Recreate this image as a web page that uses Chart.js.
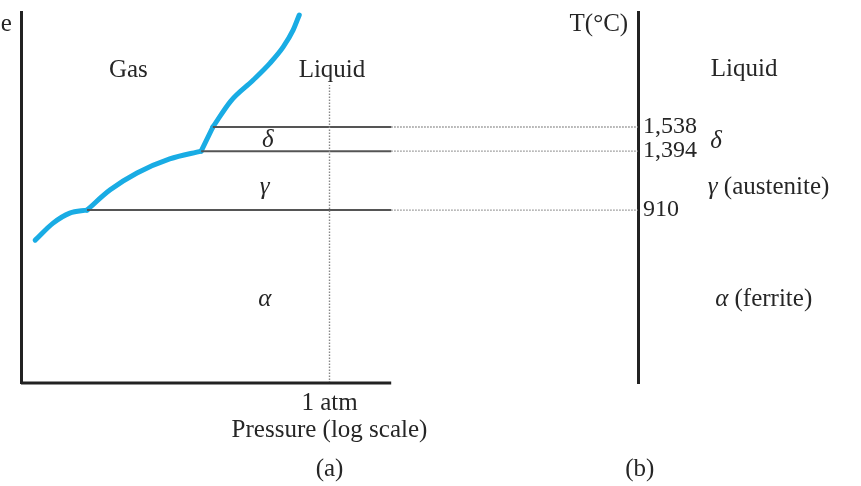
<!DOCTYPE html>
<html><head><meta charset="utf-8">
<script src="https://cdn.jsdelivr.net/npm/chart.js@4/dist/chart.umd.min.js"></script>
<style>html,body{margin:0;padding:0;background:#fff}</style>
</head><body>
<canvas id="c" width="861" height="486" style="display:block;width:861px;height:486px"></canvas>
<script>
// Schematic coordinates: x = log pressure (arbitrary units, 1 atm = 5), y = schematic temperature level (0..100)
const xAxisEnd = 6;          // end of the pressure axis of panel (a)
const panelBx = 10;          // temperature axis of panel (b)
const oneAtm = 5;
const oneAtmTop = 80.3;
const phaseLevels = [69.0, 62.5, 46.6];          // levels of 1,538 / 1,394 / 910 °C
const tempLabels = ['1,538', '1,394', '910'];
const phaseLineStart = [3.11, 2.92, 1.07];       // where each phase line meets the curve
const curveGasAlpha = [[0.23, 38.5], [0.52, 43.1], [0.79, 45.8], [1.07, 46.6]];
const curveGasGamma = [[1.07, 46.6], [1.44, 52.0], [1.88, 56.6], [2.41, 60.4], [2.92, 62.5]];
const curveGasDelta = [[2.92, 62.5], [3.11, 69.0]];
const curveGasLiquid = [[3.11, 69.0], [3.40, 76.0], [3.76, 81.6], [4.04, 86.3], [4.25, 90.6], [4.41, 95.1], [4.51, 99.2]];

const TXT = '#262626';
const FONT = '"Liberation Serif", "Times New Roman", serif';

const pts = a => a.map(p => ({x: p[0], y: p[1]}));
const curveStyle = {borderColor: '#19ace4', borderWidth: 5, tension: 0.4, cubicInterpolationMode: 'monotone', pointRadius: 0, showLine: true, clip: false, borderCapStyle: 'round', borderJoinStyle: 'round'};

const datasets = [];
// x axis line of panel (a)
datasets.push({data: [{x: 0, y: 0}, {x: xAxisEnd, y: 0}], borderColor: '#222', borderWidth: 3, pointRadius: 0, showLine: true, clip: false});
// 1 atm dotted line
datasets.push({data: [{x: oneAtm, y: 0}, {x: oneAtm, y: oneAtmTop}], borderColor: '#888', borderWidth: 1.4, borderDash: [1.5, 1.5], pointRadius: 0, showLine: true, clip: false});
phaseLevels.forEach((lv, i) => {
  datasets.push({data: [{x: phaseLineStart[i], y: lv}, {x: xAxisEnd, y: lv}], borderColor: '#555', borderWidth: 2, pointRadius: 0, showLine: true, clip: false});
  datasets.push({data: [{x: xAxisEnd, y: lv}, {x: panelBx, y: lv}], borderColor: '#8a8a8a', borderWidth: 1.4, borderDash: [1.5, 1.5], pointRadius: 0, showLine: true, clip: false});
});
[curveGasAlpha, curveGasGamma, curveGasDelta, curveGasLiquid].forEach(c => datasets.push(Object.assign({data: pts(c)}, curveStyle)));

// text annotations, in data units; 'i' parts are italic
const annotations = [
  {parts: [['Gas', '']], x: 1.74, y: 84.3, align: 'center'},
  {parts: [['Liquid', '']], x: 5.04, y: 84.3, align: 'center'},
  {parts: [['δ', 'i']], x: 4.0, y: 65.4, align: 'center'},
  {parts: [['γ', 'i']], x: 3.95, y: 52.8, align: 'center'},
  {parts: [['α', 'i']], x: 3.95, y: 22.6, align: 'center'},
  {parts: [['Liquid', '']], x: 11.18, y: 84.6, align: 'left'},
  {parts: [['δ', 'i']], x: 11.17, y: 65.2, align: 'left'},
  {parts: [['γ', 'i'], [' (austenite)', '']], x: 11.13, y: 52.8, align: 'left'},
  {parts: [['α', 'i'], [' (ferrite)', '']], x: 11.25, y: 22.6, align: 'left'},
  {parts: [['T(°C)', '']], x: 9.84, y: 96.7, align: 'right'},
  {parts: [['e', '']], x: -0.15, y: 96.7, align: 'right'},
  {parts: [['(a)', '']], x: 5.0, y: -23.2, align: 'center'},
  {parts: [['(b)', '']], x: 10.03, y: -23.2, align: 'center'}
];

const textPlugin = {
  id: 'texts',
  afterDraw(chart) {
    const ctx = chart.ctx, xs = chart.scales.x, ys = chart.scales.y;
    ctx.save();
    ctx.fillStyle = TXT;
    ctx.textBaseline = 'middle';
    ctx.textAlign = 'left';
    annotations.forEach(a => {
      const fonts = a.parts.map(p => (p[1] === 'i' ? 'italic ' : '') + '25px ' + FONT);
      let w = 0;
      const widths = a.parts.map((p, k) => { ctx.font = fonts[k]; const m = ctx.measureText(p[0]).width; w += m; return m; });
      let px = xs.getPixelForValue(a.x);
      const py = ys.getPixelForValue(a.y);
      if (a.align === 'center') px -= w / 2; else if (a.align === 'right') px -= w;
      a.parts.forEach((p, k) => { ctx.font = fonts[k]; ctx.fillText(p[0], px, py); px += widths[k]; });
    });
    ctx.restore();
  }
};

const noPad = s => { s.paddingTop = 0; s.paddingBottom = 0; s.paddingLeft = 0; s.paddingRight = 0; };

new Chart(document.getElementById('c'), {
  type: 'scatter',
  data: {datasets},
  options: {
    responsive: false,
    animation: false,
    devicePixelRatio: 1,
    layout: {padding: {top: 12, left: 0, right: 0, bottom: 0}},
    plugins: {legend: {display: false}, tooltip: {enabled: false}},
    scales: {
      x: {
        type: 'linear', min: 0, max: panelBx, position: 'bottom',
        grid: {display: false, drawTicks: false}, border: {display: false},
        afterBuildTicks: s => { s.ticks = [{value: oneAtm}]; },
        ticks: {callback: () => '1 atm', padding: 5, autoSkip: false, maxRotation: 0, color: TXT, font: {family: FONT, size: 25}},
        title: {display: true, text: 'Pressure (log scale)', color: TXT, font: {family: FONT, size: 25}, padding: {top: 0, bottom: 41}},
        afterFit: s => { s.height = 103; noPad(s); }
      },
      y: {
        type: 'linear', min: 0, max: 100, position: 'left',
        grid: {display: false, drawTicks: false}, border: {display: true, color: '#222', width: 3},
        ticks: {display: false},
        afterFit: s => { s.width = 21; noPad(s); }
      },
      yT: {
        type: 'linear', min: 0, max: 100, position: 'right',
        grid: {display: false, drawTicks: false}, border: {display: true, color: '#222', width: 3},
        afterBuildTicks: s => { s.ticks = phaseLevels.map(v => ({value: v})); },
        ticks: {callback: (v, i) => tempLabels[i], padding: 5, autoSkip: false, color: TXT, font: {family: FONT, size: 24}},
        afterFit: s => { s.width = 223; noPad(s); }
      }
    }
  },
  plugins: [textPlugin]
});
</script>
</body></html>
